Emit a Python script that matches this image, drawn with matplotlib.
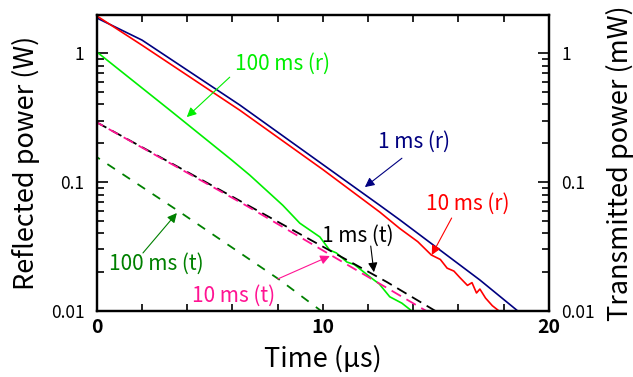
import matplotlib
matplotlib.use("Agg")
import matplotlib.pyplot as plt
from matplotlib.ticker import MultipleLocator, LogLocator, NullFormatter, FixedLocator, FixedFormatter

plt.rcParams['font.family'] = ['Noto Sans CJK JP', 'DejaVu Sans']

# reflected power (W)
t_1ms_r = [0, 2, 6.33, 12.52, 13.4, 16.95, 18.63, 19.0]
p_1ms_r = [1.87, 1.26, 0.395, 0.066, 0.051, 0.0174, 0.01, 0.0089]

t_10ms_r = [0, 2, 6.33, 10, 12.52, 13.4, 14.2, 14.8, 15.2, 15.5, 15.8,
            16.06, 16.4, 16.6, 16.8, 16.95, 17.2, 17.5, 17.8, 18.0]
p_10ms_r = [1.94, 1.15, 0.36, 0.125, 0.0585, 0.0437, 0.0345, 0.0272, 0.0251,
            0.0215, 0.0204, 0.0182, 0.0158, 0.0166, 0.0138, 0.0148, 0.0126, 0.011, 0.01, 0.0093]

t_100ms_r = [0, 3.23, 5.97, 6.77, 8.23, 8.98, 9.87, 10.3, 10.6, 11.06, 11.4, 12.08,
             12.5, 12.96, 13.5, 13.94, 14.1]
p_100ms_r = [1.02, 0.361, 0.148, 0.113, 0.066, 0.048, 0.0375, 0.0297, 0.0282, 0.024,
             0.0229, 0.0184, 0.0162, 0.0129, 0.0115, 0.01, 0.0095]

# transmitted power (mW)
t_1ms_t = [0, 6.02, 12.83, 15.2]
p_1ms_t = [0.29, 0.0766, 0.0168, 0.0095]

t_10ms_t = [0, 6.64, 14.8]
p_10ms_t = [0.29, 0.0652, 0.0095]

t_100ms_t = [0, 3.54, 8.1, 10.1]
p_100ms_t = [0.156, 0.0607, 0.0174, 0.0095]

fig = plt.figure(figsize=(6.33, 3.77), dpi=100)
ax = fig.add_axes([0.153, 0.175, 0.714, 0.785])

ax.plot(t_1ms_r, p_1ms_r, color='#000080', lw=1.2)
ax.plot(t_10ms_r, p_10ms_r, color='#ff0000', lw=1.2)
ax.plot(t_100ms_r, p_100ms_r, color='#00ee00', lw=1.2)
ax.plot(t_1ms_t, p_1ms_t, color='black', lw=1.3, linestyle=(0, (6, 3.5)))
ax.plot(t_10ms_t, p_10ms_t, color='#ff1493', lw=1.3, linestyle=(2, (6, 3.5)))
ax.plot(t_100ms_t, p_100ms_t, color='#008000', lw=1.3, linestyle=(3, (5, 5)))

ax.set_yscale('log')
ax.set_xlim(0, 20)
ax.set_ylim(0.01, 1.97)

ax.xaxis.set_major_locator(MultipleLocator(10))
ax.xaxis.set_minor_locator(MultipleLocator(2))
ax.yaxis.set_major_locator(FixedLocator([0.01, 0.1, 1]))
ax.yaxis.set_major_formatter(FixedFormatter(['0.01', '0.1', '1']))
ax.yaxis.set_minor_locator(LogLocator(base=10, subs=range(2, 10)))
ax.yaxis.set_minor_formatter(NullFormatter())

for lab in ax.get_xticklabels():
    lab.set_fontweight('bold')
ax.tick_params(axis='x', which='both', direction='in', top=True, length=5, width=1.2,
               labelsize=14, pad=5)
ax.tick_params(axis='y', which='major', direction='in', length=8, width=1.2, labelsize=12.5, pad=9)
ax.tick_params(axis='y', which='minor', direction='in', length=5, width=1.2)
for s in ax.spines.values():
    s.set_linewidth(1.6)

ax.set_xlabel('Time (\u03bcs)', fontsize=19.5, labelpad=6)
ax.set_ylabel('Reflected power (W)', fontsize=19.5, labelpad=8)

ax2 = ax.twinx()
ax2.set_yscale('log')
ax2.set_ylim(0.01, 1.97)
ax2.yaxis.set_major_locator(FixedLocator([0.01, 0.1, 1]))
ax2.yaxis.set_major_formatter(FixedFormatter(['0.01', '0.1', '1']))
ax2.yaxis.set_minor_locator(LogLocator(base=10, subs=range(2, 10)))
ax2.yaxis.set_minor_formatter(NullFormatter())
ax2.tick_params(axis='y', which='major', direction='in', length=8, width=1.2, labelsize=12.5, pad=9)
ax2.tick_params(axis='y', which='minor', direction='in', length=5, width=1.2)
ax2.set_ylabel('Transmitted power (mW)', fontsize=19.5, labelpad=8)
for s in ax2.spines.values():
    s.set_linewidth(1.6)

def note(txt, xy, xytext, tail, color):
    ax.annotate('', xy=xy, xytext=tail,
                arrowprops=dict(arrowstyle='-|>', color=color, lw=0.8,
                                mutation_scale=14, shrinkA=0, shrinkB=0))
    ax.text(xytext[0], xytext[1], txt, color=color, fontsize=15,
            ha='center', va='center')

note('100 ms (r)', (3.98, 0.319), (8.23, 0.82), (5.88, 0.65), '#00ee00')
note('1 ms (r)', (11.86, 0.0914), (14.03, 0.204), (13.5, 0.153), '#000080')
note('10 ms (r)', (14.82, 0.0272), (16.42, 0.0675), (15.7, 0.0526), '#ff0000')
note('1 ms (t)', (12.26, 0.02), (11.55, 0.0381), (12.12, 0.0319), 'black')
note('10 ms (t)', (10.31, 0.0267), (6.06, 0.0131), (8.0, 0.0177), '#ff1493')
note('100 ms (t)', (3.54, 0.0575), (2.61, 0.0231), (2.04, 0.0282), '#008000')

fig.savefig('out.png', dpi=100)
